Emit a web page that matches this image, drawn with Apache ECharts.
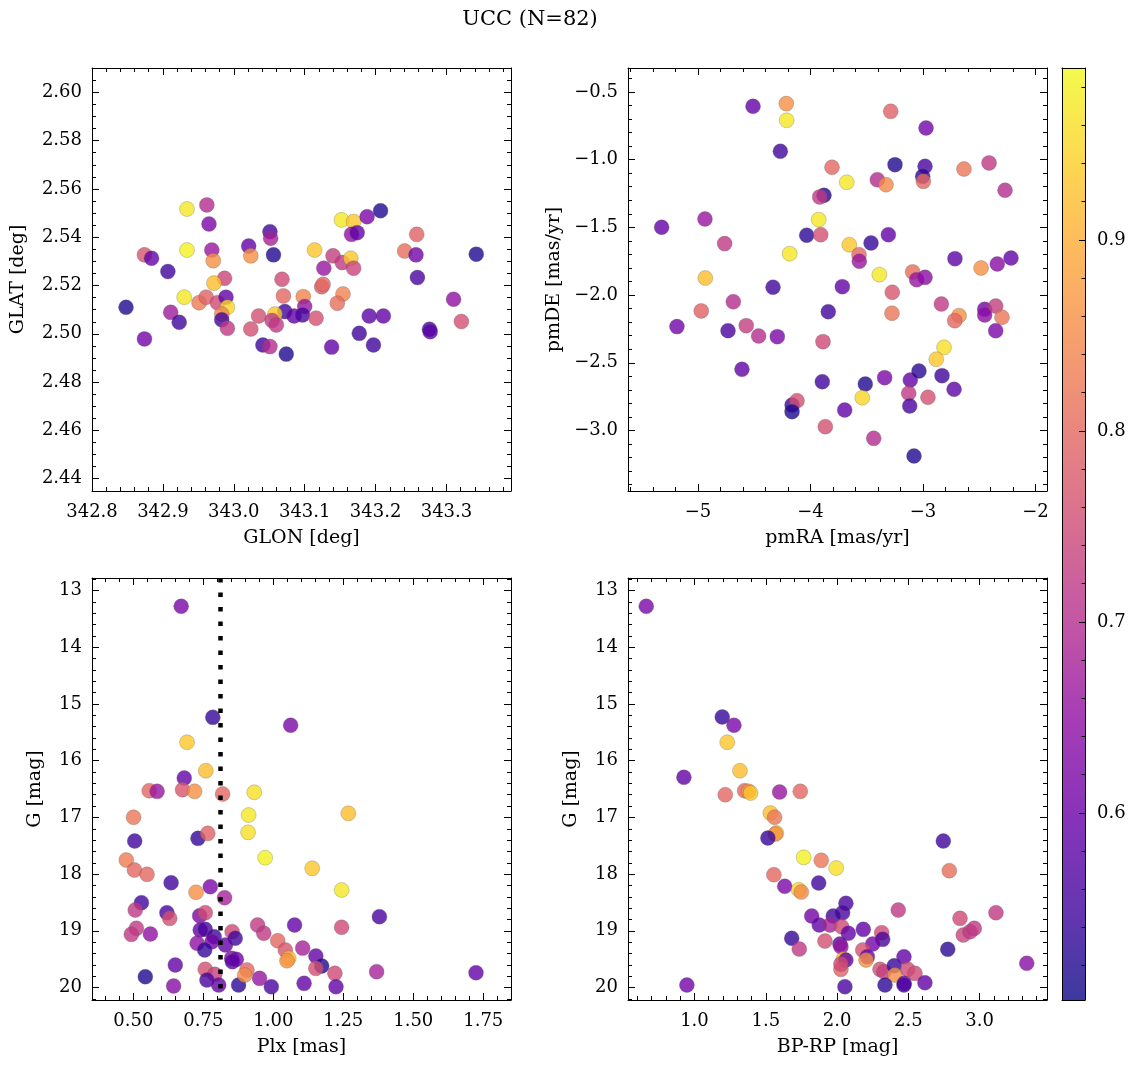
<!DOCTYPE html>
<html><head><meta charset="utf-8">
<script src="https://cdn.jsdelivr.net/npm/echarts@6/dist/echarts.min.js"></script>
<style>html,body{margin:0;padding:0;background:#fff}#c{width:1135px;height:1068px}</style>
</head><body><div id="c"></div>
<script>
// ---------------- DATA ----------------
const glon = [342.934,342.962,342.965,342.934,342.969,342.971,342.874,342.884,342.907,342.987,342.972,342.930,342.951,342.961,342.977,342.989,342.991,342.983,342.983,342.991,342.848,342.911,342.923,342.874,343.024,343.035,343.051,343.052,343.021,343.024,343.056,343.068,343.070,343.072,343.058,343.054,343.060,343.085,343.041,343.051,343.074,
343.152,343.169,343.188,343.207,343.166,343.174,343.114,343.140,343.153,343.165,343.169,343.127,343.124,343.126,343.098,343.100,343.097,343.116,343.154,343.146,343.191,343.211,343.177,343.197,343.138,343.258,343.241,343.257,343.259,343.342,343.310,343.321,343.276,343.277];
const glat = [2.5517,2.5534,2.5455,2.5347,2.5347,2.5303,2.5327,2.5313,2.5258,2.5230,2.5210,2.5152,2.5129,2.5152,2.5129,2.5152,2.5110,2.5082,2.5058,2.5023,2.5110,2.5089,2.5048,2.4979,2.5020,2.5074,2.5423,2.5396,2.5364,2.5323,2.5327,2.5226,2.5157,2.5092,2.5082,2.5055,2.5037,2.5074,2.4954,2.4947,2.4916,
2.5472,2.5465,2.5485,2.5510,2.5412,2.5419,2.5347,2.5323,2.5295,2.5313,2.5272,2.5272,2.5195,2.5205,2.5154,2.5113,2.5078,2.5065,2.5165,2.5127,2.5074,2.5074,2.5002,2.4954,2.4945,2.5412,2.5343,2.5327,2.5233,2.5330,2.5143,2.5051,2.5019,2.5009];
const probPos = [0.97,0.70,0.62,0.98,0.66,0.86,0.77,0.59,0.55,0.74,0.92,0.97,0.83,0.79,0.75,0.59,0.95,0.84,0.55,0.72,0.52,0.67,0.55,0.61,0.76,0.76,0.55,0.68,0.59,0.86,0.52,0.75,0.80,0.55,0.93,0.72,0.72,0.59,0.55,0.70,0.52,
0.97,0.93,0.62,0.52,0.65,0.59,0.93,0.73,0.72,0.93,0.74,0.66,0.78,0.80,0.84,0.66,0.56,0.76,0.84,0.81,0.58,0.59,0.55,0.55,0.59,0.79,0.81,0.61,0.56,0.52,0.65,0.76,0.56,0.58];

const pmRA = [-4.511,-4.215,-4.212,-4.268,-3.809,-3.880,-3.918,-3.927,-4.034,-3.909,-5.323,-4.938,-4.763,-4.185,-4.935,-3.287,-2.973,-3.249,-2.982,-3.003,-2.997,-2.636,-2.413,-2.271,-3.678,-3.406,-3.329,-3.655,-3.462,-3.308,-3.569,-3.566,-3.388,-2.716,-2.484,-2.340,-2.218,-3.092,-3.056,-2.982,
-4.333,-3.717,-4.971,-4.686,-5.187,-4.733,-4.571,-4.461,-4.295,-3.842,-3.889,-3.273,-3.276,-2.837,-2.680,-2.718,-2.452,-2.452,-2.354,-2.298,-2.354,-2.813,-2.882,-4.609,-3.895,-3.513,-3.341,-3.113,-3.036,-2.831,-2.724,-3.127,-2.956,-3.118,-3.540,-3.696,-4.164,-4.120,-4.164,-3.868,-3.438,-3.080];
const pmDE = [-0.606,-0.586,-0.709,-0.938,-1.056,-1.263,-1.275,-1.443,-1.558,-1.554,-1.499,-1.438,-1.620,-1.694,-1.874,-0.643,-0.766,-1.037,-1.049,-1.123,-1.160,-1.069,-1.024,-1.226,-1.167,-1.148,-1.185,-1.628,-1.615,-1.554,-1.702,-1.750,-1.849,-1.731,-1.800,-1.770,-1.726,-1.829,-1.886,-1.869,
-1.942,-1.938,-2.117,-2.049,-2.233,-2.263,-2.226,-2.302,-2.307,-2.123,-2.344,-1.979,-2.134,-2.066,-2.152,-2.189,-2.105,-2.147,-2.081,-2.164,-2.263,-2.386,-2.474,-2.548,-2.640,-2.657,-2.610,-2.627,-2.561,-2.595,-2.696,-2.725,-2.755,-2.819,-2.758,-2.849,-2.812,-2.780,-2.861,-2.972,-3.058,-3.188];
const probPM = [0.59,0.86,0.97,0.55,0.80,0.52,0.72,0.97,0.53,0.76,0.59,0.66,0.72,0.97,0.92,0.79,0.61,0.52,0.56,0.53,0.80,0.82,0.72,0.70,0.97,0.70,0.85,0.93,0.54,0.59,0.80,0.66,0.97,0.58,0.86,0.64,0.59,0.81,0.66,0.64,
0.55,0.59,0.79,0.70,0.61,0.56,0.73,0.70,0.62,0.55,0.75,0.77,0.82,0.72,0.86,0.80,0.61,0.64,0.73,0.82,0.62,0.96,0.93,0.59,0.55,0.52,0.62,0.59,0.53,0.55,0.58,0.72,0.76,0.56,0.95,0.59,0.55,0.76,0.52,0.76,0.70,0.52];

const plx = [0.671,0.784,1.062,0.692,0.759,0.682,0.557,0.585,0.676,0.719,0.819,0.932,
0.501,0.912,0.910,0.971,0.505,0.731,0.766,0.475,0.504,0.549,0.635,0.775,0.724,0.826,0.529,0.507,0.620,0.630,0.737,0.757,0.511,0.493,0.561,0.739,0.757,0.789,0.728,0.781,0.755,0.853,0.864,0.829,0.851,0.868,0.854,0.944,0.966,1.016,1.043,1.055,1.049,1.076,0.650,0.543,0.644,0.757,0.791,0.763,0.805,0.876,0.906,0.898,0.951,0.993,
1.268,1.139,1.244,1.379,1.244,1.105,1.152,1.173,1.152,1.220,1.369,1.110,1.224,1.724];
const gPlx = [13.277,15.235,15.376,15.675,16.176,16.305,16.529,16.540,16.511,16.540,16.587,16.557,
16.998,16.958,17.263,17.711,17.416,17.369,17.281,17.751,17.928,18.004,18.152,18.222,18.321,18.416,18.504,18.633,18.681,18.780,18.734,18.681,18.956,19.062,19.056,18.986,18.974,19.104,19.220,19.192,19.339,19.016,19.132,19.250,19.485,19.503,19.544,18.898,19.044,19.175,19.339,19.485,19.527,18.898,19.603,19.810,19.974,19.679,19.767,19.868,19.956,19.956,19.691,19.780,19.838,19.986,
16.928,17.898,18.280,18.751,18.938,19.305,19.444,19.621,19.662,19.750,19.721,19.926,19.986,19.739];
const probPlx = [0.62,0.54,0.62,0.93,0.92,0.59,0.80,0.66,0.77,0.86,0.80,0.96,
0.82,0.97,0.96,0.98,0.55,0.54,0.79,0.83,0.80,0.80,0.55,0.62,0.86,0.68,0.55,0.72,0.56,0.76,0.62,0.75,0.72,0.72,0.65,0.59,0.56,0.55,0.65,0.61,0.54,0.75,0.55,0.59,0.63,0.61,0.58,0.72,0.72,0.80,0.77,0.92,0.86,0.59,0.59,0.52,0.64,0.76,0.73,0.56,0.59,0.53,0.80,0.85,0.66,0.56,
0.92,0.93,0.97,0.56,0.75,0.68,0.59,0.52,0.76,0.75,0.68,0.59,0.59,0.59];
const plxCut = [0.812];

const bprp = [0.662,1.195,1.277,1.230,0.926,1.319,1.216,1.352,1.380,1.394,1.597,1.742,1.532,1.562,1.574,1.567,1.515,1.766,1.889,1.994,1.557,1.633,1.871,1.731,1.749,
2.745,2.787,2.062,2.039,1.973,1.822,1.875,1.950,2.032,2.079,2.184,2.313,2.320,2.250,2.429,1.682,1.735,1.915,2.020,2.027,2.044,2.062,2.027,2.027,2.055,2.180,2.212,2.203,2.301,2.329,2.401,2.406,2.469,2.495,2.546,2.336,2.471,2.469,2.616,2.776,2.862,2.885,2.932,2.962,3.114,3.330,0.947];
const gCmd = [13.277,15.229,15.376,15.675,16.293,16.176,16.600,16.529,16.540,16.570,16.552,16.540,16.922,16.998,17.275,17.293,17.363,17.704,17.757,17.892,18.010,18.215,18.157,18.275,18.316,
17.416,17.940,18.515,18.681,18.739,18.739,18.898,18.898,18.928,19.044,18.974,19.033,19.150,19.233,18.633,19.132,19.321,19.180,19.233,19.280,19.503,19.515,19.679,19.586,19.986,19.339,19.457,19.515,19.679,19.721,19.616,19.780,19.457,19.679,19.750,19.956,19.926,19.956,19.915,19.326,18.780,19.074,19.016,18.956,18.681,19.573,19.956];
const probCmd = [0.62,0.54,0.62,0.93,0.59,0.92,0.80,0.80,0.86,0.93,0.66,0.80,0.92,0.82,0.92,0.86,0.54,0.98,0.82,0.96,0.80,0.62,0.55,0.95,0.85,
0.55,0.81,0.56,0.56,0.55,0.61,0.59,0.68,0.75,0.59,0.59,0.75,0.56,0.61,0.72,0.54,0.72,0.76,0.58,0.66,0.92,0.59,0.79,0.75,0.56,0.76,0.59,0.86,0.76,0.73,0.54,0.86,0.59,0.75,0.75,0.53,0.59,0.56,0.59,0.53,0.75,0.74,0.72,0.72,0.72,0.64,0.61];

// tick labels
const ticksGlon = [342.8,342.9,343.0,343.1,343.2,343.3];
const ticksGlat = [2.44,2.46,2.48,2.50,2.52,2.54,2.56,2.58,2.60];
const ticksPmRA = [-5,-4,-3,-2];
const ticksPmDE = [-3.0,-2.5,-2.0,-1.5,-1.0,-0.5];
const ticksPlx = [0.50,0.75,1.00,1.25,1.50,1.75];
const ticksG = [13,14,15,16,17,18,19,20];
const ticksBpRp = [1.0,1.5,2.0,2.5,3.0];
const ticksCbar = [0.6,0.7,0.8,0.9];
const probRange = [0.502, 0.99];

// ---------------- STYLE / LAYOUT ----------------
const FONT = 'DejaVu Serif';
const TICK_FS = 18, NAME_FS = 19;
const plasma = ['#0d0887','#41049d','#6a00a8','#8f0da4','#b12a90','#cc4778','#e16462','#f2844b','#fca636','#fcce25','#f0f921'];
function blend(hex, a){ const n=parseInt(hex.slice(1),16); const r=(n>>16)&255,g=(n>>8)&255,b=n&255;
  const f=c=>Math.round(a*c+(1-a)*255); return 'rgb('+f(r)+','+f(g)+','+f(b)+')'; }
function seq(a,b,step){ const o=[]; const n=Math.round((b-a)/step); for(let i=0;i<=n;i++) o.push(+(a+i*step).toFixed(6)); return o; }
function fmt(v,dec){ return (v<0?'\u2212':'') + Math.abs(v).toFixed(dec); }
function zip(a,b,c){ return a.map((v,i)=>[v,b[i],c[i]]); }

const panels = [
 {grid:{left:92,top:68,width:419,height:423},
  x:{min:342.8,max:343.391,major:ticksGlon,minor:seq(342.8,343.38,0.02),dec:1,name:'GLON [deg]'},
  y:{min:2.4349,max:2.6101,major:ticksGlat,minor:seq(2.435,2.61,0.005),dec:2,name:'GLAT [deg]',gap:64},
  data:zip(glon,glat,probPos)},
 {grid:{left:628,top:68,width:419,height:423},
  x:{min:-5.622,max:-1.898,major:ticksPmRA,minor:seq(-5.6,-2.0,0.2),dec:0,name:'pmRA [mas/yr]'},
  y:{min:-3.447,max:-0.323,major:ticksPmDE,minor:seq(-3.4,-0.4,0.1),dec:1,name:'pmDE [mas/yr]',gap:64},
  data:zip(pmRA,pmDE,probPM)},
 {grid:{left:92,top:578,width:419,height:422},
  x:{min:0.3525,max:1.849,major:ticksPlx,minor:seq(0.4,1.8,0.05),dec:2,name:'Plx [mas]'},
  y:{min:12.778,max:20.22,major:ticksG,minor:seq(12.8,20.2,0.2),dec:0,name:'G [mag]',gap:47,inverse:true},
  data:zip(plx,gPlx,probPlx), cut:true},
 {grid:{left:628,top:578,width:419,height:422},
  x:{min:0.534,max:3.472,major:ticksBpRp,minor:seq(0.6,3.4,0.1),dec:1,name:'BP-RP [mag]'},
  y:{min:12.778,max:20.22,major:ticksG,minor:seq(12.8,20.2,0.2),dec:0,name:'G [mag]',gap:47,inverse:true},
  data:zip(bprp,gCmd,probCmd)}
];

const lineS = {color:'#000', width:1};
function axesFor(dim, gi, s){
  const A = dim==='x'?'bottom':'left', B = dim==='x'?'top':'right';
  const minor = s.minor.filter(v=>v>=s.min && v<=s.max);
  const base = {type:'value', gridIndex:gi, min:s.min, max:s.max, inverse:!!s.inverse, scale:true,
    splitLine:{show:false}, axisLine:{show:false}, axisTick:{show:false}, axisLabel:{show:false}, silent:true};
  const main = Object.assign({}, base, {position:A,
    axisLine:{show:true, onZero:false, lineStyle:lineS},
    axisTick:{show:true, inside:true, length:7, customValues:s.major, lineStyle:lineS},
    axisLabel:{show:true, customValues:s.major, formatter:v=>fmt(v,s.dec), margin:dim==='x'?12:10,
      fontFamily:FONT, fontSize:TICK_FS, color:'#000'},
    name:s.name, nameLocation:'middle', nameGap:dim==='x'?38:s.gap,
    nameTextStyle:{fontFamily:FONT, fontSize:NAME_FS, color:'#000'}});
  const minA = Object.assign({}, base, {position:A, axisTick:{show:true, inside:true, length:4, customValues:minor, lineStyle:lineS}});
  const mainB = Object.assign({}, base, {position:B, axisLine:{show:true, onZero:false, lineStyle:lineS},
    axisTick:{show:true, inside:true, length:7, customValues:s.major, lineStyle:lineS}});
  const minB = Object.assign({}, base, {position:B, axisTick:{show:true, inside:true, length:4, customValues:minor, lineStyle:lineS}});
  return [main, minA, mainB, minB];
}

const grids=[], xAxes=[], yAxes=[], series=[];
panels.forEach((p,gi)=>{
  grids.push(Object.assign({containLabel:false}, p.grid));
  const xi = xAxes.length, yi = yAxes.length;
  xAxes.push(...axesFor('x', gi, p.x));
  yAxes.push(...axesFor('y', gi, p.y));
  const s = {type:'scatter', xAxisIndex:xi, yAxisIndex:yi, data:p.data, symbolSize:15,
    itemStyle:{opacity:0.8, borderColor:'rgba(90,90,90,0.7)', borderWidth:0.5},
    emphasis:{disabled:true}, silent:true, z:2};
  if (p.cut) s.markLine = {silent:true, symbol:['none','none'], label:{show:false}, animation:false,
    lineStyle:{color:'#000', width:4.5, type:[4.5,10], cap:'butt'}, data:plxCut.map(v=>({xAxis:v}))};
  series.push(s);
});

// colorbar frame + ticks
const cb = {left:1062, top:68, width:23, height:932};
grids.push(cb);
const cgi = 4;
const cbBase = {type:'value', gridIndex:cgi, min:probRange[0], max:probRange[1], splitLine:{show:false}, silent:true,
  axisLine:{show:true, lineStyle:lineS}, axisTick:{show:false}, axisLabel:{show:false}};
xAxes.push(Object.assign({}, cbBase, {position:'bottom'}), Object.assign({}, cbBase, {position:'top'}));
yAxes.push(Object.assign({}, cbBase, {position:'left'}),
  Object.assign({}, cbBase, {position:'right', axisTick:{show:true, inside:true, length:6, customValues:ticksCbar, lineStyle:lineS},
    axisLabel:{show:true, customValues:ticksCbar, formatter:v=>v.toFixed(1), margin:12, fontFamily:FONT, fontSize:TICK_FS, color:'#000'}}),
  Object.assign({}, cbBase, {position:'right', axisLine:{show:false},
    axisTick:{show:true, inside:true, length:3.5, customValues:seq(0.52,0.98,0.02), lineStyle:lineS}}));

const chart = echarts.init(document.getElementById('c'), null, {renderer:'canvas'});
chart.setOption({
  animation:false,
  backgroundColor:'#fff',
  grid:grids, xAxis:xAxes, yAxis:yAxes, series:series,
  visualMap:[{type:'continuous', show:false, min:probRange[0], max:probRange[1], dimension:2,
    seriesIndex:[0,1,2,3], inRange:{color:plasma}}],
  graphic:[
    {type:'rect', z:-1, shape:{x:cb.left, y:cb.top, width:cb.width, height:cb.height},
     style:{fill:new echarts.graphic.LinearGradient(0,1,0,0, plasma.map((c,i)=>({offset:i/(plasma.length-1), color:blend(c,0.8)})))}},
    {type:'text', x:530, y:20, style:{text:'UCC (N=82)', fontFamily:FONT, fontSize:21, fill:'#000', textAlign:'center', textVerticalAlign:'middle'}}
  ]
});
</script></body></html>
